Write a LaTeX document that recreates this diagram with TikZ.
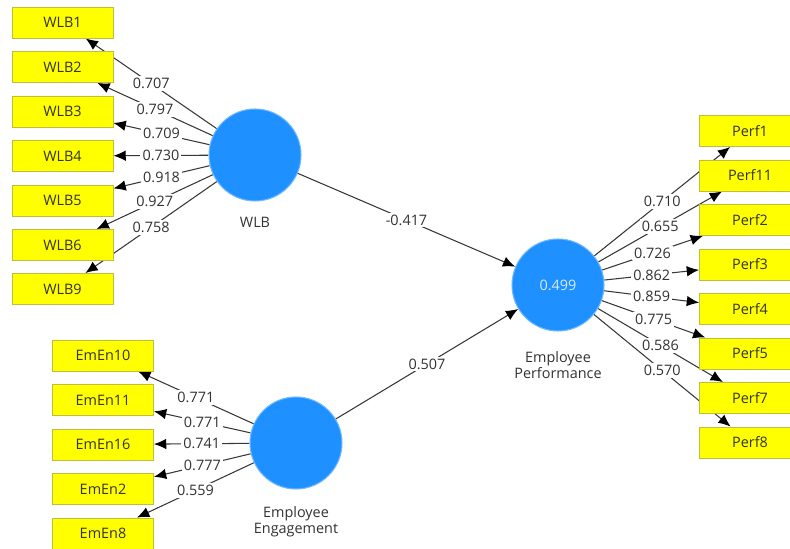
\documentclass[tikz,border=0pt]{standalone}
\usepackage{fontspec}
\setmainfont{Open Sans}
\usetikzlibrary{arrows.meta,backgrounds}

\definecolor{indfill}{RGB}{255,255,0}
\definecolor{inddraw}{RGB}{190,190,60}
\definecolor{lvfill}{RGB}{30,144,255}
\definecolor{lvdraw}{RGB}{110,185,255}
\definecolor{pathcol}{RGB}{55,55,55}
\definecolor{txtcol}{RGB}{50,50,50}

\begin{document}
\begin{tikzpicture}[>={Latex[length=7pt,width=6pt]},font=\fontsize{8.2}{10}\selectfont]
\tikzstyle{ind}=[draw=inddraw,fill=indfill,line width=0.5pt,minimum width=2.02cm,minimum height=0.62cm,inner sep=0pt,text=txtcol]
\tikzstyle{lv}=[circle,draw=lvdraw,fill=lvfill,line width=0.6pt,minimum size=1.84cm,inner sep=0pt,text={rgb,255:red,215;green,235;blue,255}]
\tikzstyle{lbl}=[fill=white,inner sep=1.2pt,text=txtcol]
\tikzstyle{lvname}=[align=center,text=txtcol]
\tikzstyle{pth}=[draw=pathcol,line width=0.6pt,-{Latex[length=7pt,width=6pt,fill=black,color=black]}]
\useasboundingbox (0,0) rectangle (15.8,10.98);
\clip (0,0) rectangle (15.8,10.98);
% latent variables
\node[lv] (wlb) at (5.1,7.88) {};
\node[lvname] (wlbname) at (5.1,6.54) {WLB};
\node[lv] (ee) at (5.92,2.12) {};
\node[lvname] (eename) at (5.92,0.54) {Employee\\[-1pt] Engagement};
\node[lv] (ep) at (11.16,5.28) {0.499};
\node[lvname] (epname) at (11.16,3.68) {Employee\\[-1pt] Performance};
% inner model
\draw[pth] (wlb) -- node[lbl] {-0.417} (ep);
\draw[pth] (ee) -- node[lbl] {0.507} (ep);
% outer loadings, lines kept under the boxes
\foreach \n/\y/\w in {1/10.53/0.707,2/9.64/0.797,3/8.75/0.709,4/7.86/0.730,5/6.97/0.918,6/6.08/0.927,9/5.2/0.758} {
  \node[ind] (wlb\n) at (1.25,\y) {WLB\n};
  \begin{pgfonlayer}{background}
    \draw[pth] (wlb) -- node[lbl] {\w} (wlb\n);
  \end{pgfonlayer}
}
\foreach \n/\y/\w in {10/3.87/0.771,11/2.98/0.771,16/2.09/0.741,2/1.2/0.777,8/0.31/0.559} {
  \node[ind] (emen\n) at (2.06,\y) {EmEn\n};
  \begin{pgfonlayer}{background}
    \draw[pth] (ee) -- node[lbl] {\w} (emen\n);
  \end{pgfonlayer}
}
\foreach \n/\y/\w in {1/8.36/0.710,11/7.47/0.655,2/6.58/0.726,3/5.69/0.862,4/4.8/0.859,5/3.91/0.775,7/3.02/0.586,8/2.13/0.570} {
  \node[ind] (perf\n) at (15.0,\y) {Perf\n};
  \begin{pgfonlayer}{background}
    \draw[pth] (ep) -- node[lbl] {\w} (perf\n);
  \end{pgfonlayer}
}
\end{tikzpicture}
\end{document}
